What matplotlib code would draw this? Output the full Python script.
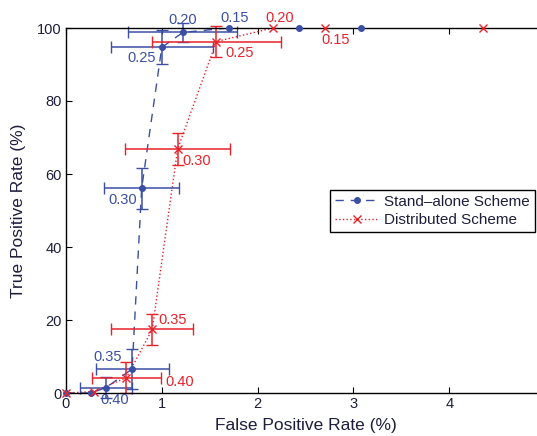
import matplotlib
matplotlib.use("Agg")
import matplotlib.pyplot as plt
from matplotlib.lines import Line2D
import numpy as np

plt.rcParams['font.family'] = ['Liberation Sans', 'DejaVu Sans']

# Stand-alone scheme (FPR %, TPR %)
sa_fpr = [0, 0.26, 0.42, 0.69, 0.79, 1.00, 1.22, 1.70, 2.43, 3.08, 100]
sa_tpr = [0, 0.0, 1.5, 6.6, 56.1, 94.7, 98.8, 100, 100, 100, 100]
sa_xerr = [0, 0, 0.27, 0.38, 0.39, 0.53, 0.57, 0, 0, 0, 0]
sa_yerr = [0, 0, 3.0, 5.4, 5.6, 4.7, 2.5, 0, 0, 0, 0]

# Distributed scheme
ds_fpr = [0, 0.29, 0.63, 0.90, 1.165, 1.57, 2.16, 2.70, 4.35, 100]
ds_tpr = [0, 0.4, 4.2, 17.4, 66.8, 96.3, 100, 100, 100, 100]
ds_xerr = [0, 0, 0.36, 0.43, 0.55, 0.67, 0, 0, 0, 0]
ds_yerr = [0, 0, 4.2, 4.3, 4.4, 4.2, 0, 0, 0, 0]

# threshold labels: (index of point, text, offset in pixels)
sa_labels = [(2, '0.40', (8, -12)), (3, '0.35', (-24, 12)), (4, '0.30', (-19, -12)),
             (5, '0.25', (-20, -11)), (6, '0.20', (0, 12)), (7, '0.15', (6, 10))]
ds_labels = [(2, '0.40', (53, -4)), (3, '0.35', (20, 9)), (4, '0.30', (19, -12)),
             (5, '0.25', (23, -11)), (6, '0.20', (7, 10)), (7, '0.15', (11, -12))]

blue = '#3b4fa3'
red = '#e8222b'
txt = '#1e1e3c'
xmax = 5

fig = plt.figure(figsize=(5.37, 4.36), dpi=100)
ax = fig.add_axes([66/537, 43/436, 479/537, 365/436])

sa_dash = (0, (6, 5))
ax.plot(sa_fpr, sa_tpr, color=blue, ls=sa_dash, lw=1)
ax.plot(ds_fpr, ds_tpr, color=red, ls=':', lw=1)

# markers drawn unclipped so those on the top spine stay whole
sa_in = np.array(sa_fpr) <= xmax
ds_in = np.array(ds_fpr) <= xmax
ax.plot(np.array(sa_fpr)[sa_in], np.array(sa_tpr)[sa_in], ls='none', marker='o',
        ms=4, color=blue, clip_on=False, zorder=4)
ax.plot(np.array(ds_fpr)[ds_in], np.array(ds_tpr)[ds_in], ls='none', marker='x',
        ms=6, mew=1, color=red, clip_on=False, zorder=4)

sa_m = np.array(sa_xerr) > 0
ax.errorbar(np.array(sa_fpr)[sa_m], np.array(sa_tpr)[sa_m],
            xerr=np.array(sa_xerr)[sa_m], yerr=np.array(sa_yerr)[sa_m],
            fmt='none', ecolor=blue, elinewidth=1.1, capsize=4, clip_on=False)
ds_m = np.array(ds_xerr) > 0
ax.errorbar(np.array(ds_fpr)[ds_m], np.array(ds_tpr)[ds_m],
            xerr=np.array(ds_xerr)[ds_m], yerr=np.array(ds_yerr)[ds_m],
            fmt='none', ecolor=red, elinewidth=1.1, capsize=4, clip_on=False)

for i, t, off in sa_labels:
    ax.annotate(t, (sa_fpr[i], sa_tpr[i]), xytext=off, textcoords='offset pixels',
                ha='center', va='center', color=blue, fontsize=10.5,
                annotation_clip=False)
for i, t, off in ds_labels:
    ax.annotate(t, (ds_fpr[i], ds_tpr[i]), xytext=off, textcoords='offset pixels',
                ha='center', va='center', color=red, fontsize=10.5,
                annotation_clip=False)

ax.set_xlim(0, xmax)
ax.set_ylim(0, 100)
ax.set_xticks([0, 1, 2, 3, 4])
ax.set_yticks([0, 20, 40, 60, 80, 100])
ax.tick_params(direction='in', length=4, top=True, right=True,
               labelsize=10.5, labelcolor=txt, pad=3)
for s in ax.spines.values():
    s.set_linewidth(1)
ax.set_xlabel('False Positive Rate (%)', fontsize=12.5, color=txt, labelpad=5)
ax.set_ylabel('True Positive Rate (%)', fontsize=12.5, color=txt, labelpad=8)

handles = [Line2D([], [], color=blue, ls=sa_dash, lw=1, marker='o', ms=4),
           Line2D([], [], color=red, ls=':', lw=1, marker='x', ms=6, mew=1)]
leg = fig.legend(handles, ['Stand\u2013alone Scheme', 'Distributed Scheme'],
                 loc='center', bbox_to_anchor=(432.5/537, 1 - 211/436),
                 fontsize=11, handlelength=2.9, handletextpad=0.35, fancybox=False,
                 framealpha=1, edgecolor='black', borderpad=0.3, labelspacing=0.3,
                 borderaxespad=0)
leg.get_frame().set_linewidth(1)
for t in leg.get_texts():
    t.set_color(txt)

fig.savefig('out.png', dpi=100)
